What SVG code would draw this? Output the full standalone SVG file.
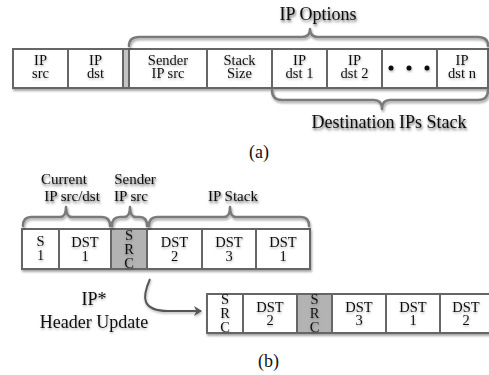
<svg xmlns="http://www.w3.org/2000/svg" width="489" height="375" viewBox="0 0 489 375">
<defs>
<filter id="sh" x="-20%" y="-20%" width="140%" height="160%">
<feDropShadow dx="1" dy="2" stdDeviation="1.3" flood-color="#000" flood-opacity="0.35"/>
</filter>
<filter id="tsh" x="-20%" y="-20%" width="140%" height="160%">
<feDropShadow dx="0.5" dy="1.5" stdDeviation="1" flood-color="#000" flood-opacity="0.3"/>
</filter>
<marker id="ah" markerWidth="10" markerHeight="10" refX="7" refY="5" orient="auto" markerUnits="userSpaceOnUse">
<path d="M0,0 L8,5 L0,10 L2.5,5 Z" fill="#555"/>
</marker>
</defs>
<style>
text{font-family:"Liberation Serif","Times New Roman",serif;fill:#111;text-anchor:middle}
.b{font-size:14.5px}
.lbl{font-size:18px}
.sm{font-size:15px}
.box{fill:#fff;stroke:#666;stroke-width:2}
.gray{fill:#b3b3b3;stroke:#666;stroke-width:2}
.brace{fill:none;stroke:#7a7a7a;stroke-width:2.5;stroke-linecap:round;stroke-linejoin:round}
.cells{filter:url(#sh)}
.t{filter:url(#tsh)}
</style>
<rect width="489" height="375" fill="#fff"/>

<!-- Row (a) -->
<g id="row-a" class="cells">
<rect class="box" x="13" y="49" width="55" height="39"/>
<rect class="box" x="68" y="49" width="55" height="39"/>
<rect class="gray" x="123" y="49" width="6" height="39" style="fill:#c4c4c4"/>
<rect class="box" x="129" y="49" width="78" height="39"/>
<rect class="box" x="207" y="49" width="65" height="39"/>
<rect class="box" x="272" y="49" width="55" height="39"/>
<rect class="box" x="327" y="49" width="55" height="39"/>
<rect class="box" x="382" y="49" width="55" height="39"/>
<rect class="box" x="437" y="49" width="51" height="39"/>
</g>
<g id="a-ipsrc" class="t"><text class="b" x="40.5" y="65">IP</text><text class="b" x="40.5" y="78">src</text></g>
<g id="a-ipdst" class="t"><text class="b" x="95.5" y="65">IP</text><text class="b" x="95.5" y="78">dst</text></g>
<g id="a-sender" class="t"><text class="b" x="168" y="65">Sender</text><text class="b" x="168" y="78">IP src</text></g>
<g id="a-stacksize" class="t"><text class="b" x="239.5" y="65">Stack</text><text class="b" x="239.5" y="78">Size</text></g>
<g id="a-dst1" class="t"><text class="b" x="299.5" y="65">IP</text><text class="b" x="299.5" y="78">dst 1</text></g>
<g id="a-dst2" class="t"><text class="b" x="354.5" y="65">IP</text><text class="b" x="354.5" y="78">dst 2</text></g>
<g id="a-dots" class="t" fill="#111"><circle cx="391" cy="68" r="2.5"/><circle cx="409" cy="68" r="2.5"/><circle cx="427" cy="68" r="2.5"/></g>
<g id="a-dstn" class="t"><text class="b" x="462" y="65">IP</text><text class="b" x="462" y="78">dst n</text></g>

<!-- Braces (a) -->
<g id="brace-ipoptions" class="cells">
<path class="brace" d="M129,46 Q129,37 139,37 L302,37 Q310,37 310,29 Q310,37 318,37 L478,37 Q488,37 488,46"/>
<text class="lbl t" x="318" y="20">IP Options</text>
</g>
<g id="brace-dststack" class="cells">
<path class="brace" d="M272,90 Q272,100 282,100 L374,100 Q382,100 382,109 Q382,100 390,100 L478,100 Q488,100 488,90"/>
<text class="lbl t" x="389" y="128">Destination IPs Stack</text>
</g>
<text id="label-a" class="lbl" x="259" y="158">(a)</text>

<!-- Row (b) upper -->
<g id="row-b1" class="cells">
<rect class="box" x="22" y="229" width="37" height="40"/>
<rect class="box" x="59" y="229" width="52" height="40"/>
<rect class="gray" x="111" y="229" width="36" height="40"/>
<rect class="box" x="147" y="229" width="55" height="40"/>
<rect class="box" x="202" y="229" width="54" height="40"/>
<rect class="box" x="256" y="229" width="54" height="40"/>
</g>
<g id="b1-s1" class="t"><text class="b" x="40.5" y="246">S</text><text class="b" x="40.5" y="260">1</text></g>
<g id="b1-dst1" class="t"><text class="b" x="85" y="247">DST</text><text class="b" x="85" y="261">1</text></g>
<g id="b1-src" class="t"><text class="b" x="129" y="240">S</text><text class="b" x="129" y="254">R</text><text class="b" x="129" y="268">C</text></g>
<g id="b1-dst2" class="t"><text class="b" x="174.5" y="247">DST</text><text class="b" x="174.5" y="261">2</text></g>
<g id="b1-dst3" class="t"><text class="b" x="229" y="247">DST</text><text class="b" x="229" y="261">3</text></g>
<g id="b1-dst1b" class="t"><text class="b" x="283" y="247">DST</text><text class="b" x="283" y="261">1</text></g>

<!-- Braces (b) -->
<g id="brace-current" class="cells">
<path class="brace" d="M23,226 Q23,217 31,217 L60,217 Q66,217 66,207 Q66,217 72,217 L102,217 Q110,217 110,226"/>
<text class="sm t" x="64" y="184">Current</text>
<text class="sm t" x="72" y="201">IP src/dst</text>
</g>
<g id="brace-sender" class="cells">
<path class="brace" d="M112,226 Q112,217 120,217 L124,217 Q130,217 130,207 Q130,217 136,217 L140,217 Q147,217 147,226"/>
<text class="sm t" x="135" y="184">Sender</text>
<text class="sm t" x="131" y="201">IP src</text>
</g>
<g id="brace-ipstack" class="cells">
<path class="brace" d="M149,226 Q149,217 157,217 L224,217 Q230,217 230,207 Q230,217 236,217 L301,217 Q309,217 309,226"/>
<text class="sm t" x="233" y="201">IP Stack</text>
</g>

<!-- Connector -->
<g id="connectors">
<path d="M150,279 Q143,295 146,302 Q150,311 168,311 L201,311" fill="none" stroke="#555" stroke-width="2" marker-end="url(#ah)" filter="url(#tsh)"/>
</g>
<g id="label-update" class="t">
<text class="lbl" x="94" y="305">IP*</text>
<text class="lbl" x="94" y="328">Header Update</text>
</g>

<!-- Row (b) lower -->
<g id="row-b2" class="cells">
<rect class="box" x="207" y="294" width="36" height="39"/>
<rect class="box" x="243" y="294" width="54" height="39"/>
<rect class="gray" x="297" y="294" width="35" height="39"/>
<rect class="box" x="332" y="294" width="54" height="39"/>
<rect class="box" x="386" y="294" width="54" height="39"/>
<rect class="box" x="440" y="294" width="60" height="39"/>
</g>
<g id="b2-src" class="t"><text class="b" x="225" y="304">S</text><text class="b" x="225" y="318">R</text><text class="b" x="225" y="332">C</text></g>
<g id="b2-dst2" class="t"><text class="b" x="270" y="312">DST</text><text class="b" x="270" y="325">2</text></g>
<g id="b2-src2" class="t"><text class="b" x="314.5" y="304">S</text><text class="b" x="314.5" y="318">R</text><text class="b" x="314.5" y="332">C</text></g>
<g id="b2-dst3" class="t"><text class="b" x="359" y="312">DST</text><text class="b" x="359" y="325">3</text></g>
<g id="b2-dst1" class="t"><text class="b" x="413" y="312">DST</text><text class="b" x="413" y="325">1</text></g>
<g id="b2-dst2b" class="t"><text class="b" x="466" y="312">DST</text><text class="b" x="466" y="325">2</text></g>
<text id="label-b" class="lbl" x="268.5" y="367">(b)</text>
</svg>
